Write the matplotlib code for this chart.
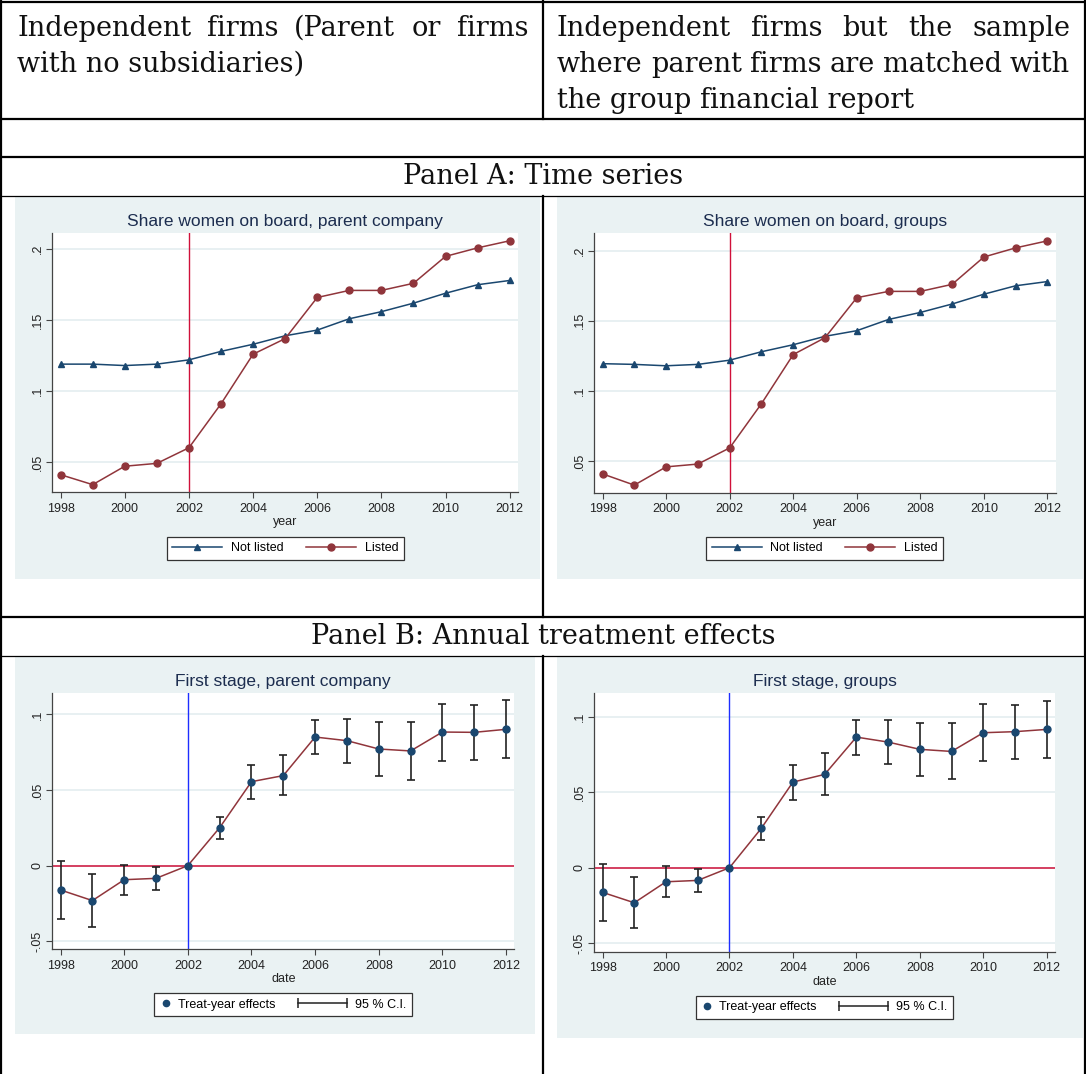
import matplotlib
matplotlib.use("Agg")
import matplotlib.pyplot as plt
from matplotlib.lines import Line2D
from matplotlib.patches import Rectangle
from matplotlib.legend_handler import HandlerBase

W, H = 1086, 1074

years = list(range(1998, 2013))
x_ticks = list(range(1998, 2013, 2))

# Panel A: share of women on board
parent_not_listed = [0.119, 0.119, 0.118, 0.119, 0.122, 0.128, 0.133, 0.139, 0.143,
                     0.151, 0.156, 0.162, 0.169, 0.175, 0.178]
parent_listed = [0.041, 0.034, 0.047, 0.049, 0.060, 0.091, 0.126, 0.137, 0.166,
                 0.171, 0.171, 0.176, 0.195, 0.201, 0.206]
groups_not_listed = [0.1195, 0.119, 0.118, 0.119, 0.122, 0.128, 0.133, 0.139, 0.143,
                     0.151, 0.156, 0.162, 0.169, 0.175, 0.178]
groups_listed = [0.041, 0.033, 0.046, 0.048, 0.0595, 0.091, 0.126, 0.138, 0.1665,
                 0.171, 0.171, 0.176, 0.1955, 0.202, 0.207]
a_yticks = [0.05, 0.10, 0.15, 0.20]
a_ylabels = [".05", ".1", ".15", ".2"]

# Panel B: treat-year effects with 95% CI (2002 is the reference year)
parent_effect = [-0.0161, -0.0231, -0.0093, -0.0084, 0.0, 0.0251, 0.0555, 0.0595, 0.0850,
                 0.0826, 0.0771, 0.0758, 0.0883, 0.0881, 0.0901]
parent_ci_low = [-0.0355, -0.0407, -0.0196, -0.0163, None, 0.0174, 0.0438, 0.0465, 0.0736,
                 0.0678, 0.0590, 0.0566, 0.0694, 0.0696, 0.0709]
parent_ci_high = [0.0029, -0.0057, 0.0007, -0.0007, None, 0.0324, 0.0667, 0.0729, 0.0963,
                  0.0971, 0.0952, 0.0952, 0.1070, 0.1064, 0.1093]
groups_effect = [-0.0163, -0.0232, -0.0093, -0.0084, 0.0, 0.0260, 0.0567, 0.0618, 0.0865,
                 0.0832, 0.0784, 0.0770, 0.0894, 0.0901, 0.0916]
groups_ci_low = [-0.0351, -0.0402, -0.0192, -0.0159, None, 0.0183, 0.0450, 0.0479, 0.0748,
                 0.0687, 0.0607, 0.0585, 0.0706, 0.0720, 0.0728]
groups_ci_high = [0.0024, -0.0060, 0.0009, -0.0009, None, 0.0333, 0.0680, 0.0759, 0.0978,
                  0.0978, 0.0960, 0.0960, 0.1082, 0.1077, 0.1104]
b_yticks = [-0.05, 0.0, 0.05, 0.10]
b_ylabels = ["-.05", "0", ".05", ".1"]

# Stata s2color-ish palette
BG = "#EAF2F3"
GRID = "#E6EFF1"
NAVY = "#1A476F"
MAROON = "#90353B"
RED = "#D0103A"
BLUE = "#1E2EFF"
TITLE = "#1C2D4F"
INK = "#222222"

plt.rcParams["font.family"] = ["Liberation Sans", "DejaVu Sans"]
SERIF = ["DejaVu Serif"]
HSIZE = 19.5


def fx(x):
    return x / W


def fy(y):
    return 1 - y / H


def rect(l, t, r, b):
    return [l / W, 1 - b / H, (r - l) / W, (b - t) / H]


class CIHandler(HandlerBase):
    """Horizontal bar with end caps, drawn leftwards into the column gap."""

    def create_artists(self, legend, orig_handle, xdescent, ydescent, width, height,
                       fontsize, trans):
        y = height / 2 - ydescent
        x1 = width - xdescent - 0.25 * fontsize
        x0 = x1 - 3.9 * fontsize
        line = Line2D([x0, x1], [y, y], color=INK, lw=1.1, transform=trans)
        caps = Line2D([x0, x1], [y, y], ls="none", marker="|", ms=7, mew=1.1,
                      color=INK, transform=trans)
        return [line, caps]


def style_axes(ax, ylim, yticks, ylabels, xlabel):
    ax.set_xlim(1997.74, 2012.26)
    ax.set_ylim(*ylim)
    ax.set_xticks(x_ticks)
    ax.set_yticks(yticks)
    ax.set_yticklabels(ylabels, rotation=90, va="center")
    for s in ["top", "right"]:
        ax.spines[s].set_visible(False)
    for s in ["left", "bottom"]:
        ax.spines[s].set_color("#444444")
        ax.spines[s].set_linewidth(0.9)
    ax.grid(axis="y", color=GRID, lw=1.3)
    ax.set_axisbelow(True)
    ax.tick_params(direction="out", length=4, width=0.8, labelsize=9,
                   colors="#444444", labelcolor=INK, pad=2)
    ax.tick_params(axis="x", pad=3.5)
    ax.set_xlabel(xlabel, fontsize=9, color=INK, labelpad=1)


def time_series(ax, title, not_listed, listed, ylim, legend_xy):
    ax.axvline(2002, color=RED, lw=1.0, zorder=1.5)
    ax.plot(years, not_listed, color=NAVY, lw=1.1, marker="^", ms=5,
            label="Not listed", zorder=3)
    ax.plot(years, listed, color=MAROON, lw=1.1, marker="o", ms=5,
            label="Listed", zorder=3)
    style_axes(ax, ylim, a_yticks, a_ylabels, "year")
    ax.set_title(title, fontsize=12.5, color=TITLE, pad=5)
    leg = ax.legend(loc="center", ncol=2, fontsize=9, handlelength=4,
                    handletextpad=0.7, columnspacing=1.8, borderpad=0.45,
                    fancybox=False, framealpha=1, edgecolor="#333333",
                    bbox_to_anchor=(fx(legend_xy[0]), fy(legend_xy[1])),
                    bbox_transform=fig.transFigure)
    leg.get_frame().set_linewidth(0.9)


def treatment(ax, title, effect, lo, hi, ylim, legend_xy):
    ax.axhline(0, color=RED, lw=1.1, zorder=1.5)
    ax.axvline(2002, color=BLUE, lw=1.0, zorder=1.5)
    ci_years = [y for y, l in zip(years, lo) if l is not None]
    ci_lo = [l for l in lo if l is not None]
    ci_hi = [h for h in hi if h is not None]
    mid = [(a + b) / 2 for a, b in zip(ci_lo, ci_hi)]
    half = [(b - a) / 2 for a, b in zip(ci_lo, ci_hi)]
    ax.errorbar(ci_years, mid, yerr=half, fmt="none", ecolor=INK, elinewidth=1.2,
                capsize=3, capthick=1.2, zorder=2)
    ax.plot(years, effect, color=MAROON, lw=1.1, zorder=3)
    ax.plot(years, effect, ls="none", marker="o", ms=5, color=NAVY, zorder=4)
    style_axes(ax, ylim, b_yticks, b_ylabels, "date")
    ax.set_title(title, fontsize=12.5, color=TITLE, pad=5)
    dot = Line2D([], [], ls="none", marker="o", ms=4.5, color=NAVY)
    ci = Line2D([], [], color=INK)
    leg = ax.legend([dot, ci], ["Treat-year effects", "95 % C.I."], loc="center",
                    ncol=2, fontsize=9, handlelength=1.0, handletextpad=0.4,
                    columnspacing=5.0, borderpad=0.45, fancybox=False, framealpha=1,
                    edgecolor="#333333", handler_map={ci: CIHandler()},
                    bbox_to_anchor=(fx(legend_xy[0]), fy(legend_xy[1])),
                    bbox_transform=fig.transFigure)
    leg.get_frame().set_linewidth(0.9)


def justified(x0, x1, y, text, size):
    words = text.split()
    renderer = fig.canvas.get_renderer()
    arts = [fig.text(0, fy(y), w, va="baseline", fontsize=size, family=SERIF,
                     color="#111111") for w in words]
    widths = [a.get_window_extent(renderer).width for a in arts]
    gap = ((x1 - x0) - sum(widths)) / (len(words) - 1)
    x = x0
    for a, w in zip(arts, widths):
        a.set_x(fx(x))
        x += w + gap


fig = plt.figure(figsize=(W / 100, H / 100), dpi=100)
fig.patch.set_facecolor("white")

# chart backgrounds (Stata graph region)
for l, t, r, b in [(15, 196, 540, 579), (557, 196, 1083, 579),
                   (15, 656, 535, 1034), (557, 656, 1083, 1038)]:
    fig.add_artist(Rectangle((fx(l), fy(b)), (r - l) / W, (b - t) / H,
                             transform=fig.transFigure, facecolor=BG,
                             edgecolor="none", zorder=-1))

ax1 = fig.add_axes(rect(52.3, 232.7, 518, 492.3))
ax2 = fig.add_axes(rect(594.3, 232.7, 1055.7, 492.7))
ax3 = fig.add_axes(rect(52.3, 692.7, 514.3, 949.3))
ax4 = fig.add_axes(rect(594.3, 692.7, 1055, 952))

time_series(ax1, "Share women on board, parent company", parent_not_listed,
            parent_listed, (0.0286, 0.2117), (285.3, 548.2))
time_series(ax2, "Share women on board, groups", groups_not_listed,
            groups_listed, (0.0276, 0.2128), (824.7, 548.2))
treatment(ax3, "First stage, parent company", parent_effect, parent_ci_low,
          parent_ci_high, (-0.0553, 0.1143), (283.2, 1004.7))
treatment(ax4, "First stage, groups", groups_effect, groups_ci_low,
          groups_ci_high, (-0.0558, 0.1159), (824.3, 1007.2))


# table grid
def hline(y, lw):
    fig.add_artist(Line2D([fx(0), fx(W)], [fy(y), fy(y)], color="black", lw=lw,
                          transform=fig.transFigure, zorder=5))


def vline(x, y0, y1, lw):
    fig.add_artist(Line2D([fx(x), fx(x)], [fy(y0), fy(y1)], color="black", lw=lw,
                          transform=fig.transFigure, zorder=5))


for y, lw in [(2, 1.6), (119, 1.6), (157, 1.6), (195.5, 0.9), (617, 1.6), (655.5, 0.9)]:
    hline(y, lw)
vline(1, 0, H, 1.6)
vline(1085, 0, H, 1.6)
vline(543, 0, 119, 1.6)
vline(543, 195.5, 617, 1.6)
vline(543, 655.5, H, 1.6)

# header cells
justified(17, 528, 36, "Independent firms (Parent or firms", HSIZE)
fig.text(fx(17), fy(72), "with no subsidiaries)", va="baseline", fontsize=HSIZE,
         family=SERIF, color="#111111")
justified(557, 1070, 36, "Independent firms but the sample", HSIZE)
justified(557, 1070, 72, "where parent firms are matched with", HSIZE)
fig.text(fx(557), fy(108), "the group financial report", va="baseline",
         fontsize=HSIZE, family=SERIF, color="#111111")
fig.text(fx(543), fy(177), "Panel A: Time series", ha="center", va="center",
         fontsize=HSIZE, family=SERIF, color="#111111")
fig.text(fx(543), fy(636), "Panel B: Annual treatment effects", ha="center",
         va="center", fontsize=HSIZE, family=SERIF, color="#111111")

fig.savefig("out.png", dpi=100)
